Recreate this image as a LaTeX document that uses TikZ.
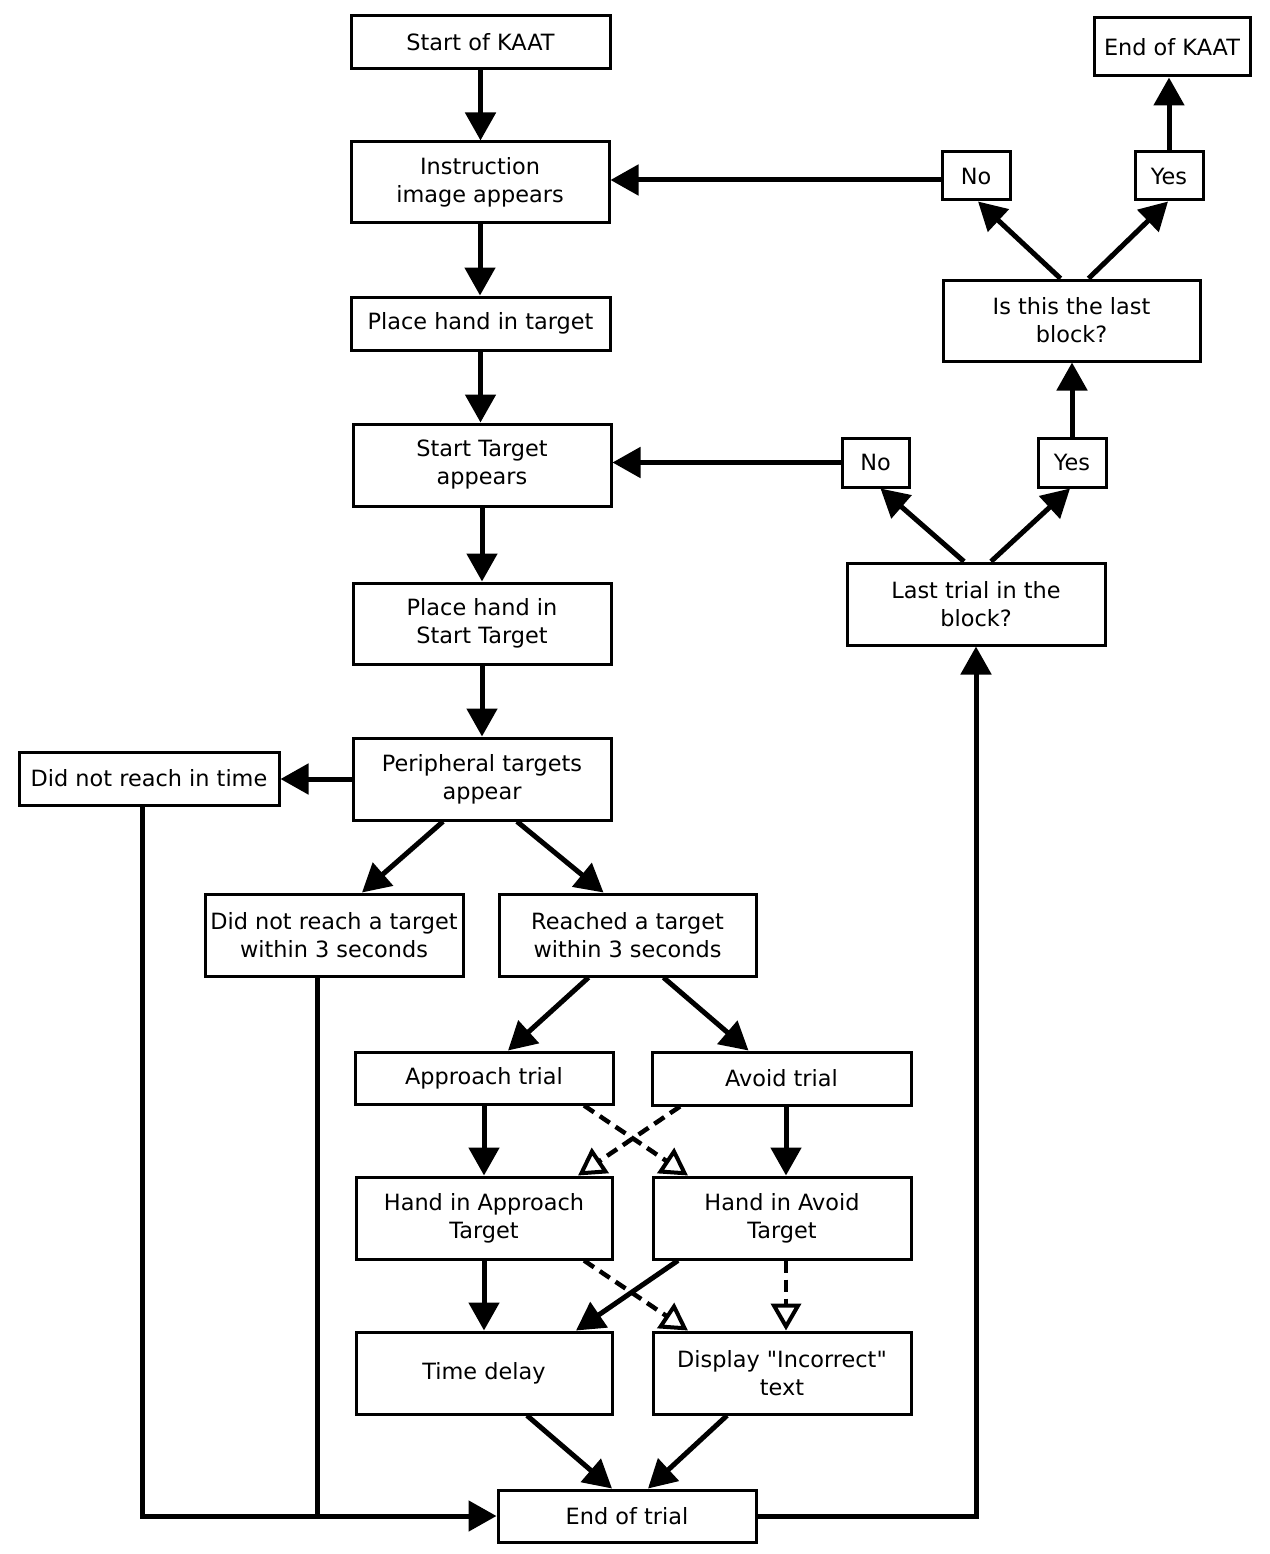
\documentclass[tikz,border=0pt]{standalone}
\usepackage{fontspec}
\setmainfont{DejaVu Sans}[Ligatures=TeXOff]
\usetikzlibrary{arrows.meta}
\begin{document}
\begin{tikzpicture}[x=1pt,y=-1pt,
  box/.style={draw, line width=3pt, fill=white, inner sep=0pt, align=center,
    font=\fontsize{22.4}{28}\selectfont},
  arr/.style={line width=5pt, -{Triangle[length=28pt,width=30pt]}},
  darr/.style={line width=4.5pt, dash pattern=on 12pt off 7pt,
    -{Triangle[open,length=27pt,width=30pt,line width=4pt]}},
  ln/.style={line width=5pt}]
\useasboundingbox (0,0) rectangle (1269,1554);
\fill[white] (0,0) rectangle (1269,1554);

\node[box, minimum width=259pt, minimum height=53pt] (start) at (480.5,42.5) {Start of KAAT};
\node[box, minimum width=258pt, minimum height=81pt] (instr) at (480,182.5) {Instruction\\image appears};
\node[box, minimum width=259pt, minimum height=53pt] (place) at (480.5,323.5) {Place hand in target};
\node[box, minimum width=258pt, minimum height=82pt] (startT) at (482,465) {Start Target\\appears};
\node[box, minimum width=258pt, minimum height=81pt] (placeST) at (482,623.5) {Place hand in\\Start Target};
\node[box, minimum width=258pt, minimum height=82pt] (periph) at (482,779) {Peripheral targets\\appear};
\node[box, minimum width=260pt, minimum height=53pt] (didnot) at (149,778.5) {Did not reach in time};
\node[box, minimum width=258pt, minimum height=82pt] (dnr) at (334,935) {Did not reach a target\\within 3 seconds};
\node[box, minimum width=257pt, minimum height=82pt] (reached) at (627.5,935) {Reached a target\\within 3 seconds};
\node[box, minimum width=258pt, minimum height=52pt] (approach) at (484,1078) {Approach trial};
\node[box, minimum width=259pt, minimum height=53pt] (avoid) at (781.5,1078.5) {Avoid trial};
\node[box, minimum width=256pt, minimum height=82pt] (handApp) at (484,1218) {Hand in Approach\\Target};
\node[box, minimum width=258pt, minimum height=82pt] (handAv) at (782,1218) {Hand in Avoid\\Target};
\node[box, minimum width=256pt, minimum height=82pt] (delay) at (484,1373) {Time delay};
\node[box, minimum width=258pt, minimum height=82pt] (incorrect) at (782,1373) {Display "Incorrect"\\text};
\node[box, minimum width=258pt, minimum height=52pt] (endtrial) at (627,1516) {End of trial};
\node[box, minimum width=258pt, minimum height=82pt] (lasttrial) at (976,604) {Last trial in the\\block?};
\node[box, minimum width=67pt, minimum height=49pt] (no1) at (875.5,462.5) {No};
\node[box, minimum width=68pt, minimum height=49pt] (yes1) at (1072,462.5) {Yes};
\node[box, minimum width=257pt, minimum height=81pt] (lastblock) at (1071.5,320.5) {Is this the last\\block?};
\node[box, minimum width=68pt, minimum height=48pt] (no2) at (976,176) {No};
\node[box, minimum width=68pt, minimum height=48pt] (yes2) at (1169,176) {Yes};
\node[box, minimum width=156pt, minimum height=58pt] (endkaat) at (1172,47) {End of KAAT};

% main column
\draw[arr] (start.south) -- (start.south |- instr.north);
\draw[arr] (instr.south) -- (instr.south |- place.north);
\draw[arr] (place.south) -- (place.south |- startT.north);
\draw[arr] (startT.south) -- (placeST.north);
\draw[arr] (placeST.south) -- (periph.north);
\draw[arr] (periph.west) -- (periph.west -| didnot.east);
\draw[arr] ([xshift=-39]periph.south) -- ([xshift=28]dnr.north);
\draw[arr] ([xshift=35]periph.south) -- ([xshift=-24]reached.north);
\draw[arr] ([xshift=-39]reached.south) -- ([xshift=24]approach.north);
\draw[arr] ([xshift=36]reached.south) -- ([xshift=-33]avoid.north);
\draw[arr] (approach.south) -- (handApp.north);
\draw[arr] ([xshift=4.5]avoid.south) -- ([xshift=4]handAv.north);
\draw[darr] ([xshift=100]approach.south) -- ([xshift=-94]handAv.north);
\draw[darr] ([xshift=-101.5]avoid.south) -- ([xshift=94]handApp.north);
\draw[arr] (handApp.south) -- (delay.north);
\draw[arr] ([xshift=-104]handAv.south) -- ([xshift=92]delay.north);
\draw[darr] ([xshift=100]handApp.south) -- ([xshift=-94]incorrect.north);
\draw[darr] ([xshift=4]handAv.south) -- ([xshift=4]incorrect.north);
\draw[arr] ([xshift=43]delay.south) -- ([xshift=-15]endtrial.north);
\draw[arr] ([xshift=-55]incorrect.south) -- ([xshift=21]endtrial.north);

% failure paths
\draw[arr] ([xshift=-7]didnot.south) |- (endtrial.west);
\draw[ln] ([xshift=-17]dnr.south) -- ([xshift=-17]dnr.south |- endtrial.west);

% right side loop
\draw[arr] (endtrial.east) -| (lasttrial.south);
\draw[arr] ([xshift=-12]lasttrial.north) -- ([xshift=5]no1.south);
\draw[arr] ([xshift=15]lasttrial.north) -- ([xshift=-2]yes1.south);
\draw[arr] (no1.west) -- (no1.west -| startT.east);
\draw[arr] (yes1.north) -- (yes1.north |- lastblock.south);
\draw[arr] ([xshift=-11]lastblock.north) -- ([xshift=2]no2.south);
\draw[arr] ([xshift=17]lastblock.north) -- ([xshift=-1]yes2.south);
\draw[arr] ([yshift=-4]no2.west) -- ([yshift=-4]no2.west -| instr.east);
\draw[arr] (yes2.north) -- (yes2.north |- endkaat.south);
\end{tikzpicture}
\end{document}
